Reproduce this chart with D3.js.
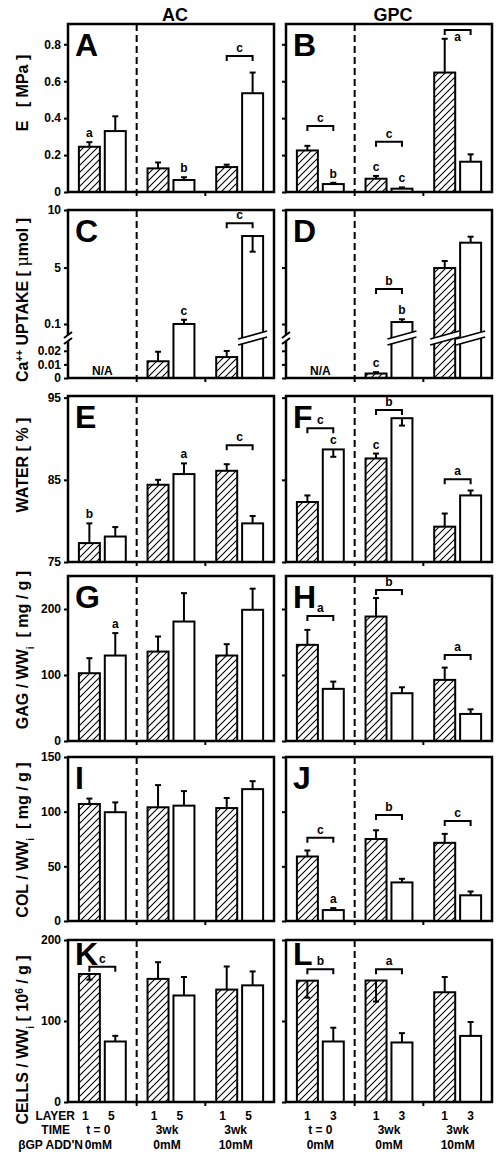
<!DOCTYPE html>
<html><head><meta charset="utf-8">
<script src="https://cdn.jsdelivr.net/npm/d3@7"></script>
<style>
body{margin:0;background:#fff}
svg{display:block}
text{font-family:"Liberation Sans",Arial,sans-serif;font-weight:bold;fill:#000}
</style>
</head><body><svg id="c" width="500" height="1157"></svg>
<script>
// ---------- DATA ----------
const groupIdx = [0, 1, 2];
const layerLeft = ["1", "5"];
const layerRight = ["1", "3"];
const timeLabels = ["t = 0", "3wk", "3wk"];
const addnLabels = ["0mM", "0mM", "10mM"];
const rowNames = ["LAYER", "TIME", "βGP ADD'N"];
const colTitles = ["AC", "GPC"];

// order of values: [t0 L1, t0 L2, 3wk0 L1, 3wk0 L2, 3wk10 L1, 3wk10 L2]
const E_domain = [0, 0.91];
const E_ticks = [0, 0.2, 0.4, 0.6, 0.8];
const E_tickLabels = ["0", "0.2", "0.4", "0.6", "0.8"];
const A_mean = [0.245, 0.33, 0.128, 0.065, 0.135, 0.535];
const A_sd = [0.025, 0.08, 0.032, 0.015, 0.013, 0.112];
const A_down = [];
const A_marks = [[0, "a"], [3, "b"]];
const A_brackets = [[2, "c", 0.737]];
const B_mean = [0.225, 0.043, 0.072, 0.018, 0.647, 0.164];
const B_sd = [0.025, 0.007, 0.015, 0.007, 0.183, 0.04];
const B_down = [];
const B_marks = [[1, "b"], [2, "c"], [3, "c"]];
const B_brackets = [[0, "c", 0.357], [1, "c", 0.272], [2, "a", 0.877, "below"]];

const Ca_domain = [0, 0.025, 0.1, 10];
const Ca_ticks = [0, 0.01, 0.02, 0.1, 5, 10];
const Ca_tickLabels = ["0", "0.01", "0.02", "0.1", "5", "10"];
const C_mean = [null, null, 0.0123, 0.1, 0.0154, 7.74];
const C_sd = [null, null, 0.007, 0.37, 0.0045, 1.36];
const C_down = [5];
const C_marks = [[3, "c"]];
const C_brackets = [[2, "c", 8.84]];
const D_mean = [null, null, 0.0033, 0.27, 4.96, 7.16];
const D_sd = [null, null, 0.001, 0.24, 0.61, 0.52];
const D_down = [];
const D_marks = [[2, "c"], [3, "b"]];
const D_brackets = [[1, "b", 3.14]];

const W_domain = [75, 95.2];
const W_ticks = [75, 85, 95];
const W_tickLabels = ["75", "85", "95"];
const Ew_mean = [77.3, 78.1, 84.4, 85.7, 86.1, 79.7];
const Ew_sd = [2.4, 1.15, 0.6, 1.3, 0.8, 0.9];
const Ew_down = [];
const Ew_marks = [[0, "b"], [3, "a"]];
const Ew_brackets = [[2, "c", 89.2]];
const F_mean = [82.3, 88.7, 87.6, 92.5, 79.3, 83.1];
const F_sd = [0.8, 0.9, 0.6, 0.9, 1.6, 0.6];
const F_down = [1, 3];
const F_marks = [[1, "c"], [2, "c"]];
const F_brackets = [[0, "c", 91.27], [1, "b", 93.5], [2, "a", 85.06]];

const GAG_domain = [0, 250];
const GAG_ticks = [0, 100, 200];
const GAG_tickLabels = ["0", "100", "200"];
const G_mean = [102.7, 129.5, 135.5, 181, 129.5, 198.8];
const G_sd = [22.8, 34, 22.8, 43, 17.2, 32];
const G_down = [];
const G_marks = [[1, "a"]];
const G_brackets = [];
const H_mean = [145.7, 79, 188.6, 72.4, 92.6, 41];
const H_sd = [22.7, 11, 28, 9, 18.6, 7];
const H_down = [];
const H_marks = [];
const H_brackets = [[0, "a", 189.4], [1, "b", 228.8], [2, "a", 130.3]];

const COL_domain = [0, 150];
const COL_ticks = [0, 50, 100, 150];
const COL_tickLabels = ["0", "50", "100", "150"];
const I_mean = [107, 99.5, 104, 105.5, 103.3, 120.6];
const I_sd = [5, 9, 20.3, 13.3, 9.2, 7.3];
const I_down = [];
const I_marks = [];
const I_brackets = [];
const J_mean = [59, 10, 75, 35.3, 71.5, 23.5];
const J_sd = [5.5, 1.8, 8, 3.3, 8.2, 3.5];
const J_down = [];
const J_marks = [[1, "a"]];
const J_brackets = [[0, "c", 76.2], [1, "b", 97], [2, "c", 91.5]];

const CELL_domain = [0, 200];
const CELL_ticks = [0, 100, 200];
const CELL_tickLabels = ["0", "100", "200"];
const K_mean = [158, 74.7, 152, 131.5, 138.8, 144];
const K_sd = [7, 7, 20.6, 22.8, 28.5, 17.2];
const K_down = [0];
const K_marks = [];
const K_brackets = [[0, "c", 167]];
const L_mean = [149.8, 74.7, 150, 73.5, 135.5, 81.6];
const L_sd = [21, 17, 26, 11.5, 18.8, 17.2];
const L_down = [0, 2];
const L_marks = [];
const L_brackets = [[0, "b", 164], [1, "a", 164]];

// ---------- LAYOUT ----------
const cols = [[68, 274], [286, 492]];
const rows = [[24, 192], [210, 378], [396, 562], [576, 741], [757, 921], [940, 1102]];

const panels = [
  {id:"A", row:0, col:0, mean:A_mean, sd:A_sd, down:A_down, marks:A_marks, br:A_brackets, dom:E_domain, ticks:E_ticks, tl:E_tickLabels},
  {id:"B", row:0, col:1, mean:B_mean, sd:B_sd, down:B_down, marks:B_marks, br:B_brackets, dom:E_domain, ticks:E_ticks, tl:E_tickLabels},
  {id:"C", row:1, col:0, mean:C_mean, sd:C_sd, down:C_down, marks:C_marks, br:C_brackets, dom:Ca_domain, ticks:Ca_ticks, tl:Ca_tickLabels, brk:true},
  {id:"D", row:1, col:1, mean:D_mean, sd:D_sd, down:D_down, marks:D_marks, br:D_brackets, dom:Ca_domain, ticks:Ca_ticks, tl:Ca_tickLabels, brk:true},
  {id:"E", row:2, col:0, mean:Ew_mean, sd:Ew_sd, down:Ew_down, marks:Ew_marks, br:Ew_brackets, dom:W_domain, ticks:W_ticks, tl:W_tickLabels},
  {id:"F", row:2, col:1, mean:F_mean, sd:F_sd, down:F_down, marks:F_marks, br:F_brackets, dom:W_domain, ticks:W_ticks, tl:W_tickLabels},
  {id:"G", row:3, col:0, mean:G_mean, sd:G_sd, down:G_down, marks:G_marks, br:G_brackets, dom:GAG_domain, ticks:GAG_ticks, tl:GAG_tickLabels},
  {id:"H", row:3, col:1, mean:H_mean, sd:H_sd, down:H_down, marks:H_marks, br:H_brackets, dom:GAG_domain, ticks:GAG_ticks, tl:GAG_tickLabels},
  {id:"I", row:4, col:0, mean:I_mean, sd:I_sd, down:I_down, marks:I_marks, br:I_brackets, dom:COL_domain, ticks:COL_ticks, tl:COL_tickLabels},
  {id:"J", row:4, col:1, mean:J_mean, sd:J_sd, down:J_down, marks:J_marks, br:J_brackets, dom:COL_domain, ticks:COL_ticks, tl:COL_tickLabels},
  {id:"K", row:5, col:0, mean:K_mean, sd:K_sd, down:K_down, marks:K_marks, br:K_brackets, dom:CELL_domain, ticks:CELL_ticks, tl:CELL_tickLabels},
  {id:"L", row:5, col:1, mean:L_mean, sd:L_sd, down:L_down, marks:L_marks, br:L_brackets, dom:CELL_domain, ticks:CELL_ticks, tl:CELL_tickLabels}
];

const svg = d3.select("#c");
const defs = svg.append("defs");
const pat = defs.append("pattern").attr("id", "hatch").attr("patternUnits", "userSpaceOnUse")
  .attr("width", 7).attr("height", 7);
pat.append("rect").attr("width", 7).attr("height", 7).attr("fill", "#fff");
pat.append("path").attr("d", "M-1,1L1,-1M0,7L7,0M6,8L8,6").attr("stroke", "#000").attr("stroke-width", 1.1);

function makeY(p, top, bot) {
  if (p.dom.length === 4) return d3.scaleLinear().domain(p.dom).range([bot, bot - 34, bot - 54, top]);
  return d3.scaleLinear().domain(p.dom).range([bot, top]);
}

panels.forEach(p => {
  const [x0, x1] = cols[p.col];
  const [top, bot] = rows[p.row];
  const y = makeY(p, top, bot);
  const xg = d3.scaleBand().domain(groupIdx).range([x0, x1]).padding(0);
  const xl = d3.scaleBand().domain([0, 1]).range([0, xg.bandwidth()]).paddingInner(0.19).paddingOuter(0.42);
  const bw = xl.bandwidth();
  const g = svg.append("g");
  const base = p.dom[0];

  // dashed separator
  g.append("line").attr("x1", xg(1)).attr("x2", xg(1)).attr("y1", top).attr("y2", bot)
    .attr("stroke", "#000").attr("stroke-width", 2).attr("stroke-dasharray", "7,4");

  const recs = p.mean.map((m, i) => ({i, g: Math.floor(i / 2), l: i % 2, m, sd: p.sd[i], down: p.down.includes(i)}))
    .filter(r => r.m != null);
  recs.forEach(r => { r.cx = xg(r.g) + xl(r.l) + bw / 2; r.ev = r.down ? r.m - r.sd : r.m + r.sd; });

  g.selectAll("rect.bar").data(recs).join("rect").attr("class", "bar")
    .attr("x", r => xg(r.g) + xl(r.l)).attr("y", r => y(r.m))
    .attr("width", bw).attr("height", r => y(base) - y(r.m))
    .attr("fill", r => r.l === 0 ? "url(#hatch)" : "#fff")
    .attr("stroke", "#000").attr("stroke-width", 2);

  // error bars
  g.selectAll("line.err").data(recs).join("line").attr("class", "err")
    .attr("x1", r => r.cx).attr("x2", r => r.cx).attr("y1", r => y(r.m)).attr("y2", r => y(r.ev))
    .attr("stroke", "#000").attr("stroke-width", 2);
  g.selectAll("line.cap").data(recs).join("line").attr("class", "cap")
    .attr("x1", r => r.cx - 3).attr("x2", r => r.cx + 3).attr("y1", r => y(r.ev)).attr("y2", r => y(r.ev))
    .attr("stroke", "#000").attr("stroke-width", 2);

  // axis break on bars
  if (p.brk) {
    const yc = y(p.dom[1]) - 6;
    recs.filter(r => r.m > p.dom[2]).forEach(r => {
      const bx = xg(r.g) + xl(r.l);
      const a = bx - 4, b = bx + bw + 4;
      g.append("path").attr("d", `M${a},${yc + 7}L${b},${yc - 1}L${b},${yc - 7}L${a},${yc + 1}Z`).attr("fill", "#fff");
      g.append("path").attr("d", `M${a},${yc + 7}L${b},${yc - 1}M${a},${yc + 1}L${b},${yc - 7}`)
        .attr("stroke", "#000").attr("stroke-width", 1.8);
    });
  }

  // frame
  g.append("rect").attr("x", x0).attr("y", top).attr("width", x1 - x0).attr("height", bot - top)
    .attr("fill", "none").attr("stroke", "#000").attr("stroke-width", 2.5);

  // y axis
  const ax = d3.axisLeft(y).tickValues(p.ticks).tickSize(4).tickPadding(3)
    .tickFormat((d, i) => p.col === 0 ? p.tl[i] : "");
  const ag = g.append("g").attr("transform", `translate(${x0},0)`).call(ax);
  ag.select(".domain").remove();
  ag.selectAll("line").attr("stroke-width", 2);
  ag.selectAll("text").attr("font-size", 12).attr("font-family", "Liberation Sans, Arial, sans-serif").attr("font-weight", "bold");

  // left-axis break
  if (p.brk) {
    const yc = y(p.dom[1]) - 6;
    g.append("path").attr("d", `M${x0 - 4},${yc + 6}L${x0 + 4},${yc}L${x0 + 4},${yc - 6}L${x0 - 4},${yc}Z`).attr("fill", "#fff");
    g.append("path").attr("d", `M${x0 - 4},${yc + 6}L${x0 + 4},${yc}M${x0 - 4},${yc}L${x0 + 4},${yc - 6}`)
      .attr("stroke", "#000").attr("stroke-width", 2);
    g.selectAll("text.na").data([0]).join("text").attr("class", "na")
      .attr("x", xg(0) + xg.bandwidth() / 2).attr("y", bot - 3).attr("text-anchor", "middle")
      .attr("font-size", 12).text("N/A");
  }

  // x ticks at group boundaries
  g.selectAll("line.xt").data([1, 2]).join("line").attr("class", "xt")
    .attr("x1", d => xg(d)).attr("x2", d => xg(d)).attr("y1", bot).attr("y2", bot + 4)
    .attr("stroke", "#000").attr("stroke-width", 2);

  // panel letter
  g.append("text").attr("x", x0 + 7).attr("y", top + (p.row === 5 ? 25 : 32))
    .attr("font-size", 32).text(p.id);

  // significance letters
  p.marks.forEach(([i, t]) => {
    const r = recs.find(q => q.i === i);
    const yy = r.down ? y(r.m) : y(r.ev);
    g.append("text").attr("x", r.cx).attr("y", yy - 5).attr("text-anchor", "middle").attr("font-size", 12).text(t);
  });
  // brackets
  p.br.forEach(([gi, t, lev, pos]) => {
    const xa = xg(gi) + xl(0) + bw / 2, xb = xg(gi) + xl(1) + bw / 2, yb = y(lev);
    g.append("path").attr("d", `M${xa},${yb + 5}V${yb}H${xb}V${yb + 5}`)
      .attr("fill", "none").attr("stroke", "#000").attr("stroke-width", 2);
    g.append("text").attr("x", (xa + xb) / 2).attr("y", pos === "below" ? yb + 11 : yb - 4)
      .attr("text-anchor", "middle").attr("font-size", 12).text(t);
  });

  // bottom category labels
  if (p.row === 5) {
    const sh = p.col === 0 ? -4 : 0;
    const lay = p.col === 0 ? layerLeft : layerRight;
    groupIdx.forEach(gi => {
      [0, 1].forEach(li => {
        g.append("text").attr("x", xg(gi) + xl(li) + bw / 2 + sh).attr("y", 1120)
          .attr("text-anchor", "middle").attr("font-size", 12).text(lay[li]);
      });
      g.append("text").attr("x", xg(gi) + xg.bandwidth() / 2 + sh).attr("y", 1134)
        .attr("text-anchor", "middle").attr("font-size", 12).text(timeLabels[gi]);
      g.append("text").attr("x", xg(gi) + xg.bandwidth() / 2 + sh).attr("y", 1149)
        .attr("text-anchor", "middle").attr("font-size", 12).text(addnLabels[gi]);
    });
  }
});

// row names
[[75, 1120], [70, 1134], [83, 1149]].forEach(([x, yy], i) => {
  svg.append("text").attr("x", x).attr("y", yy).attr("text-anchor", "end").attr("font-size", 12).text(rowNames[i]);
});

// column titles
colTitles.forEach((t, i) => {
  svg.append("text").attr("x", (cols[i][0] + cols[i][1]) / 2 + 4).attr("y", 21)
    .attr("text-anchor", "middle").attr("font-size", 18).text(t);
});

// y axis titles (rotated)
function yTitle(cy, parts) {
  const t = svg.append("text").attr("transform", `translate(28,${cy}) rotate(-90)`)
    .attr("text-anchor", "middle").attr("font-size", 16).style("white-space", "pre");
  parts.forEach(([s, kind]) => {
    const ts = t.append("tspan").text(s);
    if (kind === "sup") ts.attr("font-size", 10).attr("baseline-shift", "super");
    if (kind === "sub") ts.attr("font-size", 10).attr("baseline-shift", "sub");
    if (kind === "mu") ts.attr("font-weight", "normal").attr("font-family", "DejaVu Serif, serif");
  });
}
yTitle(93, [["E   [ MPa ]"]]);
yTitle(300, [["Ca"], ["++", "sup"], [" UPTAKE [ "], ["μ", "mu"], ["mol ]"]]);
yTitle(465, [["WATER [ % ]"]]);
yTitle(650, [["GAG / WW"], ["i", "sub"], ["  [ mg / g ]"]]);
yTitle(840, [["COL / WW"], ["i", "sub"], ["  [ mg / g ]"]]);
yTitle(1040, [["CELLS / WW"], ["i", "sub"], [" [ 10"], ["6", "sup"], [" / g ]"]]);
</script></body></html>
